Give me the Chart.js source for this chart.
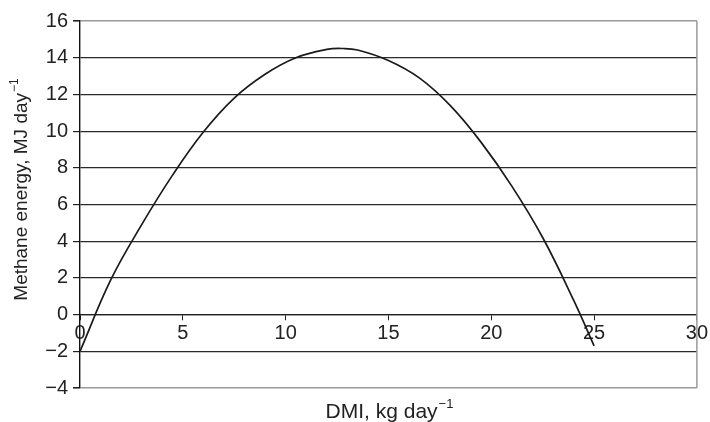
<!DOCTYPE html>
<html>
<head>
<meta charset="utf-8">
<script src="https://cdn.jsdelivr.net/npm/chart.js@4.4.1/dist/chart.umd.min.js"></script>
<style>
    html, body { margin: 0; padding: 0; background: #fff; }
    #wrap { width: 710px; height: 422px; }
</style>
</head>
<body>
<div id="wrap"><canvas id="methaneChart" width="710" height="422"></canvas></div>
<script>
// Values
const dmiValues = [0, 1.5, 3, 4.5, 6, 7.5, 9, 10.5, 12, 12.8, 13.5, 15, 16.5, 18, 19.5, 21, 22.5, 24, 25];
const methaneValues = [-2, 1.9, 4.9, 7.6, 9.95, 11.8, 13.1, 14.0, 14.45, 14.5, 14.42, 13.85, 12.9, 11.4, 9.4, 7.0, 4.2, 0.8, -1.7];
const xTicks = [0, 5, 10, 15, 20, 25, 30];
const yTicks = [-4, -2, 0, 2, 4, 6, 8, 10, 12, 14, 16];

const xTitle = 'DMI, kg day';
const yTitle = 'Methane energy, MJ day';
const titleSup = '\u22121';

const fontFamily = '"Liberation Sans", Arial, Helvetica, sans-serif';
const points = dmiValues.map((x, i) => ({ x: x, y: methaneValues[i] }));

// draws the right border and the two axis titles (with superscript)
const framePlugin = {
    id: 'framePlugin',
    beforeDatasetsDraw(chart) {
        const { ctx, chartArea } = chart;
        ctx.save();
        ctx.strokeStyle = '#9a9a9a';
        ctx.lineWidth = 1.5;
        ctx.beginPath();
        ctx.moveTo(chartArea.right, chartArea.top);
        ctx.lineTo(chartArea.right, chartArea.bottom);
        ctx.stroke();
        ctx.restore();
    },
    afterDraw(chart) {
        const { ctx } = chart;
        ctx.save();
        ctx.fillStyle = '#222';
        ctx.textBaseline = 'alphabetic';

        // x title
        ctx.font = '21px ' + fontFamily;
        let mainW = ctx.measureText(xTitle).width;
        ctx.font = '13px ' + fontFamily;
        let supW = ctx.measureText(titleSup).width;
        let startX = 389 - (mainW + supW) / 2;
        ctx.font = '21px ' + fontFamily;
        ctx.fillText(xTitle, startX, 418);
        ctx.font = '13px ' + fontFamily;
        ctx.fillText(titleSup, startX + mainW + 1, 408);

        // y title, rotated
        ctx.translate(27, 190);
        ctx.rotate(-Math.PI / 2);
        ctx.font = '19px ' + fontFamily;
        mainW = ctx.measureText(yTitle).width;
        ctx.font = '12px ' + fontFamily;
        supW = ctx.measureText(titleSup).width;
        startX = -(mainW + supW) / 2;
        ctx.font = '19px ' + fontFamily;
        ctx.fillText(yTitle, startX, 0);
        ctx.font = '12px ' + fontFamily;
        ctx.fillText(titleSup, startX + mainW + 1, -9);
        ctx.restore();
    }
};

new Chart(document.getElementById('methaneChart'), {
    type: 'scatter',
    data: {
        datasets: [{
            label: 'Methane energy',
            data: points,
            showLine: true,
            borderColor: '#1a1a1a',
            borderWidth: 1.7,
            pointRadius: 0,
            tension: 0.4,
            fill: false
        }]
    },
    options: {
        responsive: false,
        animation: false,
        layout: { padding: { top: 21, right: 12, bottom: 34, left: 0 } },
        plugins: {
            legend: { display: false },
            tooltip: { enabled: false }
        },
        scales: {
            x: {
                type: 'linear',
                position: { y: 0 },
                min: 0,
                max: 30,
                afterBuildTicks: (scale) => { scale.ticks = xTicks.map(v => ({ value: v })); },
                grid: {
                    drawOnChartArea: false,
                    drawTicks: true,
                    tickLength: 5,
                    color: '#222'
                },
                border: { display: true, color: '#222', width: 1.3 },
                ticks: {
                    color: '#222',
                    padding: 2,
                    maxRotation: 0,
                    font: { family: fontFamily, size: 20 }
                }
            },
            y: {
                type: 'linear',
                min: -4,
                max: 16,
                afterBuildTicks: (scale) => { scale.ticks = yTicks.map(v => ({ value: v })); },
                afterFit: (scale) => { scale.width = 80; },
                grid: {
                    color: (ctx) => (ctx.tick && (ctx.tick.value === 16 || ctx.tick.value === -4)) ? '#9a9a9a' : '#2a2a2a',
                    lineWidth: (ctx) => (ctx.tick && (ctx.tick.value === 16 || ctx.tick.value === -4)) ? 1.6 : 1.2,
                    tickColor: '#222',
                    tickLength: 7,
                    drawTicks: true
                },
                border: { display: true, color: '#111', width: 1.4 },
                ticks: {
                    color: '#222',
                    padding: 5,
                    font: { family: fontFamily, size: 20 },
                    callback: (value) => String(value).replace('-', '\u2212')
                }
            }
        }
    },
    plugins: [framePlugin]
});
</script>
</body>
</html>
